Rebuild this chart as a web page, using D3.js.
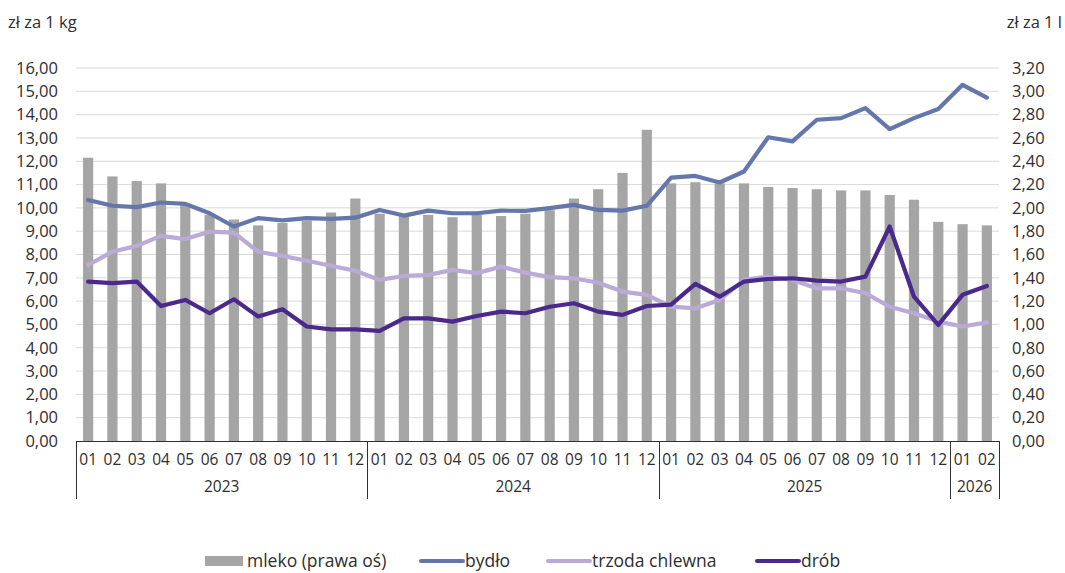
<!DOCTYPE html>
<html>
<head>
<meta charset="utf-8">
<script src="https://cdn.jsdelivr.net/npm/d3@7"></script>
<style>
  html, body { margin: 0; padding: 0; background: #fff; }
  svg { display: block; font-family: "Open Sans", "Noto Sans", sans-serif; }
</style>
</head>
<body>
<svg id="chart" width="1065" height="573"></svg>
<script>
const months = ["01","02","03","04","05","06","07","08","09","10","11","12",
                "01","02","03","04","05","06","07","08","09","10","11","12",
                "01","02","03","04","05","06","07","08","09","10","11","12",
                "01","02"];
const years = ["2023","2024","2025","2026"];
const yearMonths = [12, 12, 12, 2];

const mleko = [2.43,2.27,2.23,2.21,2.02,1.94,1.90,1.85,1.87,1.89,1.96,2.08,
               1.95,1.93,1.94,1.92,1.94,1.93,1.95,1.98,2.08,2.16,2.30,2.67,
               2.21,2.22,2.21,2.21,2.18,2.17,2.16,2.15,2.15,2.11,2.07,1.88,
               1.86,1.85];
const bydlo = [10.34,10.09,10.03,10.23,10.17,9.77,9.20,9.56,9.46,9.56,9.53,9.58,
               9.91,9.67,9.88,9.77,9.77,9.88,9.87,9.99,10.13,9.91,9.88,10.09,
               11.30,11.37,11.09,11.56,13.03,12.85,13.78,13.85,14.28,13.38,13.85,14.24,
               15.28,14.73];
const trzoda = [7.55,8.12,8.37,8.80,8.66,8.98,8.94,8.12,7.94,7.73,7.52,7.30,
                6.91,7.08,7.12,7.34,7.20,7.48,7.22,7.03,6.98,6.79,6.41,6.27,
                5.76,5.69,6.05,6.91,7.05,6.91,6.55,6.55,6.34,5.76,5.48,5.12,
                4.91,5.09];
const drob = [6.84,6.77,6.84,5.79,6.05,5.48,6.08,5.34,5.65,4.91,4.79,4.79,
              4.72,5.26,5.26,5.12,5.36,5.55,5.48,5.76,5.91,5.55,5.41,5.79,
              5.85,6.74,6.19,6.84,6.95,6.98,6.88,6.84,7.05,9.20,6.19,4.98,
              6.27,6.65];

const leftTicks = d3.range(0, 16.001, 1);
const rightTicks = d3.range(0, 3.2001, 0.2);

const seriesNames = ["mleko (prawa oś)", "bydło", "trzoda chlewna", "drób"];
const colors = {bar: "#a5a5a5", bydlo: "#6476aa", trzoda: "#b9aad7", drob: "#4b288c"};

const svg = d3.select("#chart");
const X0 = 76, X1 = 999, Y0 = 441, Y1 = 68;
const idx = months.map((m, i) => i);
const x = d3.scaleBand().domain(idx).range([X0, X1]).paddingInner(0.58).paddingOuter(0.29);
const yL = d3.scaleLinear().domain([0, 16]).range([Y0, Y1]);
const yR = d3.scaleLinear().domain([0, 3.2]).range([Y0, Y1]);
const fmt = v => d3.format(".2f")(v).replace(".", ",");
const textColor = "#2e2e2e";
const tickSize = 16.5;

// gridlines
svg.append("g").selectAll("line").data(leftTicks.filter(t => t > 0)).join("line")
  .attr("x1", X0).attr("x2", X1)
  .attr("y1", d => yL(d)).attr("y2", d => yL(d))
  .attr("stroke", "#d9d9d9").attr("stroke-width", 1);

// left axis labels
svg.append("g").selectAll("text").data(leftTicks).join("text")
  .attr("x", 58).attr("y", d => yL(d)).attr("dy", "0.35em")
  .attr("text-anchor", "end").attr("font-size", tickSize).attr("fill", textColor)
  .text(fmt);
// right axis labels
svg.append("g").selectAll("text").data(rightTicks).join("text")
  .attr("x", 1012).attr("y", d => yR(d)).attr("dy", "0.35em")
  .attr("text-anchor", "start").attr("font-size", tickSize).attr("fill", textColor)
  .text(fmt);

// unit titles
svg.append("text").attr("x", 8).attr("y", 28).attr("font-size", tickSize).attr("fill", textColor).text("zł za 1 kg");
svg.append("text").attr("x", 1062).attr("y", 28).attr("text-anchor", "end").attr("font-size", tickSize).attr("fill", textColor).text("zł za 1 l");

// bars
svg.append("g").selectAll("rect").data(mleko).join("rect")
  .attr("x", (d, i) => x(i)).attr("width", x.bandwidth())
  .attr("y", d => yR(d)).attr("height", d => yR(0) - yR(d))
  .attr("fill", colors.bar);

// lines
const line = d3.line().x((d, i) => x(i) + x.bandwidth() / 2);
function drawLine(data, color, scale) {
  svg.append("path").datum(data)
    .attr("d", line.y(d => scale(d)))
    .attr("fill", "none").attr("stroke", color).attr("stroke-width", 4.2)
    .attr("stroke-linejoin", "round").attr("stroke-linecap", "round");
}
drawLine(bydlo, colors.bydlo, yL);
drawLine(trzoda, colors.trzoda, yL);
drawLine(drob, colors.drob, yL);

// x axis
const axisColor = "#303030";
svg.append("line").attr("x1", X0).attr("x2", X1).attr("y1", Y0 + 0.5).attr("y2", Y0 + 0.5)
  .attr("stroke", axisColor).attr("stroke-width", 1);
svg.append("g").selectAll("text").data(months).join("text")
  .attr("x", (d, i) => x(i) + x.bandwidth() / 2).attr("y", 460).attr("dy", "0.35em")
  .attr("text-anchor", "middle").attr("font-size", 15.5).attr("fill", textColor)
  .text(d => d);
// year groups
const step = x.step();
let start = 0;
const bounds = [0];
years.forEach((yr, k) => {
  const n = yearMonths[k];
  const xa = X0 + start * step, xb = X0 + (start + n) * step;
  svg.append("text").attr("x", (xa + xb) / 2).attr("y", 487).attr("dy", "0.35em")
    .attr("text-anchor", "middle").attr("font-size", 15.5).attr("fill", textColor).text(yr);
  start += n;
  bounds.push(start);
});
svg.append("g").selectAll("line").data(bounds).join("line")
  .attr("x1", d => Math.round(X0 + d * step) + 0.5).attr("x2", d => Math.round(X0 + d * step) + 0.5)
  .attr("y1", Y0).attr("y2", 499)
  .attr("stroke", axisColor).attr("stroke-width", 1);

// legend
const lg = svg.append("g").attr("font-size", 17.5).attr("fill", textColor);
const ly = 561;
lg.append("rect").attr("x", 205).attr("y", ly - 5).attr("width", 38).attr("height", 10).attr("fill", colors.bar);
lg.append("text").attr("x", 247).attr("y", ly).attr("dy", "0.35em").text(seriesNames[0]);
const lineItems = [
  {x: 421, c: colors.bydlo, t: seriesNames[1]},
  {x: 548, c: colors.trzoda, t: seriesNames[2]},
  {x: 757, c: colors.drob, t: seriesNames[3]}
];
lineItems.forEach(it => {
  lg.append("line").attr("x1", it.x).attr("x2", it.x + 42).attr("y1", ly).attr("y2", ly)
    .attr("stroke", it.c).attr("stroke-width", 4).attr("stroke-linecap", "round");
  lg.append("text").attr("x", it.x + 44).attr("y", ly).attr("dy", "0.35em").text(it.t);
});
</script>
</body>
</html>
